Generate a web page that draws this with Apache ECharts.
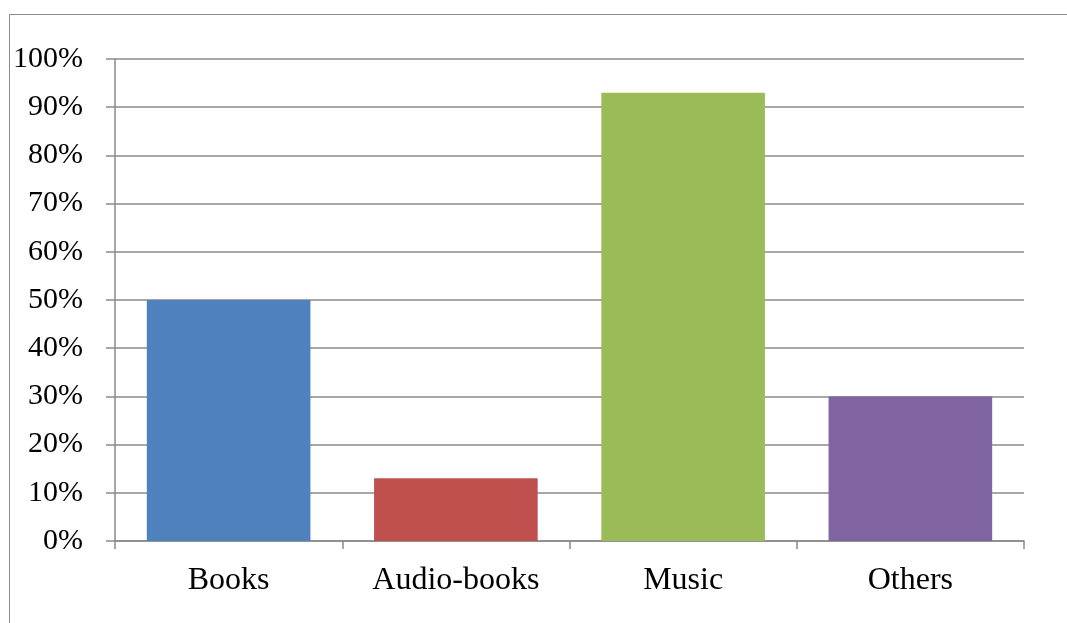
<!DOCTYPE html>
<html>
<head>
<meta charset="utf-8">
<script src="https://cdn.jsdelivr.net/npm/echarts@6/dist/echarts.min.js"></script>
<style>
  html, body { margin: 0; padding: 0; background: #fff; }
  #chart { width: 1067px; height: 623px; }
</style>
</head>
<body>
<div id="chart"></div>
<script>
const categories = ['Books', 'Audio-books', 'Music', 'Others']
const shares = [50, 13, 93, 30]
const barColors = ['#4F81BD', '#C0504D', '#9BBB59', '#8064A2']

const chart = echarts.init(document.getElementById('chart'))
const gridColor = '#8a8a8a'

const option = {
  animation: false,
  graphic: [
    {
      type: 'rect',
      shape: { x: 9.5, y: 14.5, width: 1200, height: 700 },
      style: { fill: 'none', stroke: '#8c8c8c', lineWidth: 1 }
    }
  ],
  grid: { left: 115, right: 43, top: 59, bottom: 82 },
  xAxis: {
    type: 'category',
    data: categories,
    axisLine: { lineStyle: { color: gridColor, width: 1.5 } },
    axisTick: { show: true, length: 8, lineStyle: { color: gridColor, width: 1.5 } },
    axisLabel: { fontFamily: 'Liberation Serif', fontSize: 32, color: '#000', margin: 24 }
  },
  yAxis: {
    type: 'value',
    min: 0,
    max: 100,
    interval: 10,
    axisLine: { show: true, lineStyle: { color: gridColor, width: 1.5 } },
    axisTick: { show: true, length: 9, lineStyle: { color: gridColor, width: 1.5 } },
    splitLine: { lineStyle: { color: gridColor, width: 1.5 } },
    axisLabel: { fontFamily: 'Liberation Serif', fontSize: 30, color: '#000', margin: 32, formatter: '{value}%' }
  },
  series: [
    {
      type: 'bar',
      barCategoryGap: '28%',
      data: shares.map((v, i) => ({ value: v, itemStyle: { color: barColors[i] } }))
    }
  ]
}
chart.setOption(option)
</script>
</body>
</html>
